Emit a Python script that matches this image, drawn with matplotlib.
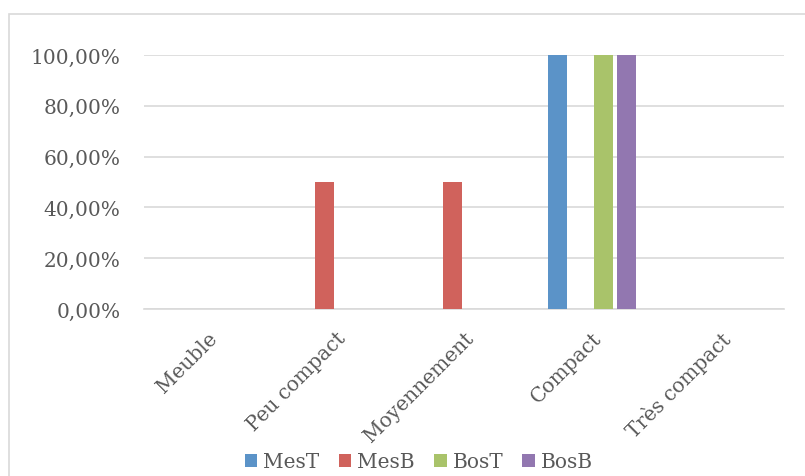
import matplotlib
matplotlib.use("Agg")
import matplotlib.pyplot as plt
from matplotlib.patches import Rectangle
from matplotlib.ticker import FuncFormatter
import numpy as np

categories = ["Meuble", "Peu compact", "Moyennement", "Compact", "Très compact"]
series_names = ["MesT", "MesB", "BosT", "BosB"]
MesT = [0.0, 0.0, 0.0, 1.0, 0.0]
MesB = [0.0, 0.5, 0.5, 0.0, 0.0]
BosT = [0.0, 0.0, 0.0, 1.0, 0.0]
BosB = [0.0, 0.0, 0.0, 1.0, 0.0]
yticks = [0.0, 0.2, 0.4, 0.6, 0.8, 1.0]

colors = ["#5B93C8", "#D0625C", "#A9C36A", "#9277B0"]
text_color = "#595959"
font = ["DejaVu Serif"]
plt.rcParams["font.family"] = font

W, H = 805, 477
fig = plt.figure(figsize=(W / 100, H / 100), dpi=100)
fig.patches.append(Rectangle((8.5 / W, -0.1), 1.2, 1 - 14.5 / H + 0.1,
                             transform=fig.transFigure, fill=False,
                             edgecolor="#D9D9D9", linewidth=1.2))

ax = fig.add_axes([144 / W, 1 - 310 / H, (784 - 144) / W, (310 - 56) / H])
x = np.arange(len(categories))
step = 23 / 128
width = 19 / 128
data = [MesT, MesB, BosT, BosB]
for i, (name, vals) in enumerate(zip(series_names, data)):
    offs = (i - 1.5) * step
    ax.bar(x + offs, vals, width=width, color=colors[i], label=name, zorder=3)

ax.set_xlim(-0.5, len(categories) - 0.5)
ax.set_ylim(0, 1.0)
ax.set_yticks(yticks)
ax.yaxis.set_major_formatter(FuncFormatter(lambda v, p: f"{v*100:.2f}%".replace(".", ",")))
ax.grid(axis="y", color="#D9D9D9", linewidth=1.2, zorder=0)
for s in ["top", "right", "left"]:
    ax.spines[s].set_visible(False)
ax.spines["bottom"].set_color("#D9D9D9")
ax.spines["bottom"].set_linewidth(1.2)
ax.tick_params(axis="both", length=0, colors=text_color, labelsize=14.5)
ax.tick_params(axis="y", pad=17)
ax.set_xticks(x)
ax.set_xticklabels(categories, rotation=45, ha="right", rotation_mode="anchor")
ax.tick_params(axis="x", pad=14)

leg = ax.legend(loc="center", ncol=4, frameon=False, fontsize=14.5,
                handlelength=0.62, handleheight=0.62,
                handletextpad=0.3, columnspacing=0.95, labelcolor=text_color)
leg.set_bbox_to_anchor((419 / W, 1 - 463 / H), transform=fig.transFigure)

fig.savefig("out.png", dpi=100)
